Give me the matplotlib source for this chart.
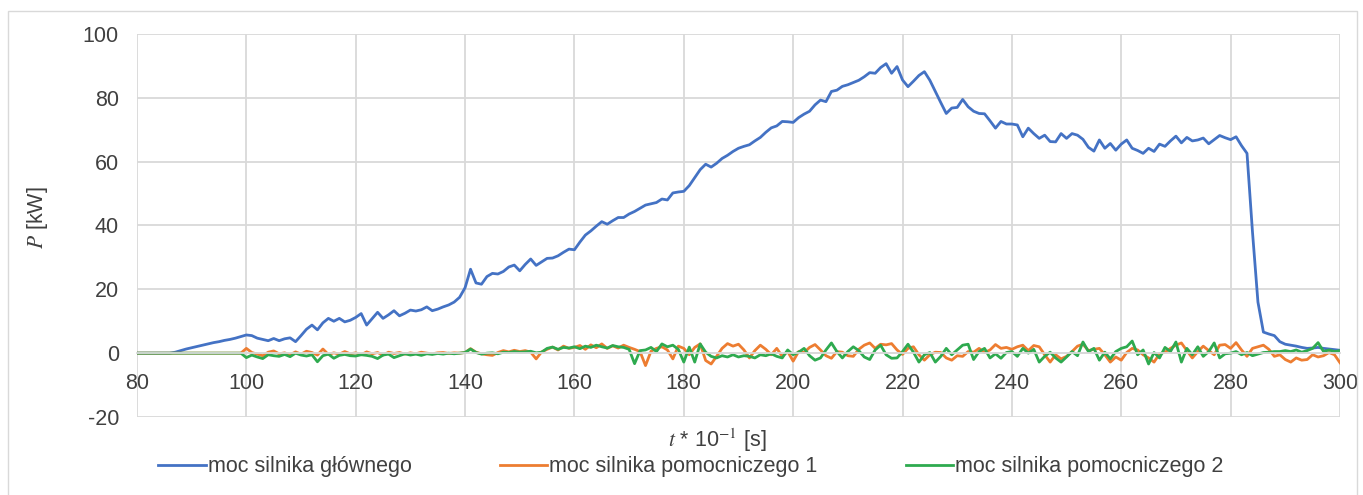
import numpy as np
import matplotlib.pyplot as plt
from matplotlib.patches import Rectangle

# czas (t * 10^-1 s), co 1 jednostke od 80 do 300
t = np.arange(80, 301)

# moc silnika glownego [kW]
p_glowny = [
    0, 0, 0, 0, 0, 0, 0, 0.3, 0.8, 1.3,
    1.7, 2.1, 2.5, 2.9, 3.3, 3.6, 4.0, 4.3, 4.7, 5.2,
    5.7, 5.5, 4.7, 4.3, 3.9, 4.6, 3.9, 4.5, 4.8, 3.6,
    5.5, 7.5, 8.8, 7.3, 9.5, 10.9, 10.0, 10.9, 9.8, 10.3,
    11.2, 12.4, 8.8, 10.8, 12.8, 10.9, 12.0, 13.3, 11.7, 12.5,
    13.5, 13.2, 13.6, 14.5, 13.3, 13.8, 14.5, 15.1, 16.0, 17.5,
    20.5, 26.3, 22.0, 21.6, 24.0, 25.0, 24.8, 25.6, 27.0, 27.6,
    25.8, 27.8, 29.5, 27.5, 28.6, 29.7, 29.8, 30.5, 31.6, 32.6,
    32.4, 34.8, 37.0, 38.3, 39.8, 41.2, 40.4, 41.5, 42.5, 42.5,
    43.6, 44.4, 45.4, 46.4, 46.8, 47.2, 48.3, 48.0, 50.2, 50.5,
    50.7, 52.5, 55.0, 57.5, 59.2, 58.3, 59.5, 61.0, 62.0, 63.2,
    64.2, 64.8, 65.3, 66.5, 67.6, 69.2, 70.6, 71.2, 72.6, 72.5,
    72.3, 73.8, 74.9, 75.8, 77.8, 79.3, 78.8, 82.0, 82.4, 83.6,
    84.1, 84.8, 85.5, 86.6, 87.9, 87.7, 89.5, 90.7, 87.7, 89.8,
    85.6, 83.5, 85.2, 87.0, 88.2, 85.5, 82.0, 78.5, 75.1, 76.8,
    77.0, 79.5, 77.2, 75.8, 75.1, 75.0, 72.8, 70.5, 72.6, 71.8,
    71.8, 71.5, 67.8, 70.5, 68.8, 67.3, 68.3, 66.3, 66.2, 68.8,
    67.3, 68.8, 68.3, 67.0, 64.5, 63.3, 66.8, 64.2, 65.7, 63.6,
    65.5, 66.8, 64.2, 63.5, 62.6, 64.2, 63.2, 65.5, 64.8, 66.5,
    68.0, 65.9, 67.6, 66.5, 66.8, 67.4, 65.6, 66.9, 68.2, 67.5,
    66.9, 67.8, 65.0, 62.6, 38.0, 16.0, 6.6, 6.0, 5.5, 3.6,
    2.8, 2.5, 2.2, 1.8, 1.5, 1.6, 1.8, 1.5, 1.3, 1.1,
    0.9,
]

# moc silnika pomocniczego 1 [kW]
p_pom1 = [
    0, 0, 0, 0, 0, 0, 0, 0, 0, 0,
    0, 0, 0, 0, 0, 0, 0, 0, 0, 0,
    1.5, 0.2, -0.3, -0.8, 0.3, 0.7, -0.2, 0.1, -0.5, 0.4,
    -0.3, 0.6, 0.2, -0.6, 1.3, -0.4, 0.1, -0.3, 0.5, -0.2,
    0.1, -0.5, 0.4, -0.2, 0.2, -0.6, 0.3, -0.1, 0.2, -0.3,
    0.1, -0.2, 0.3, 0.0, -0.2, 0.1, 0.2, -0.1, 0.1, 0.0,
    0.2, 1.4, 0.3, -0.2, -0.5, -0.7, 0.2, 0.8, 0.4, 0.9,
    0.5, 0.8, 0.3, -1.8, 0.4, 1.2, 1.9, 1.0, 2.2, 1.5,
    1.8, 2.4, 1.2, 2.6, 1.7, 2.9, 1.5, 2.3, 1.6, 2.5,
    1.8, 1.2, 0.5, -3.9, 0.6, 1.5, 2.0, 1.0, -1.8, 2.2,
    1.5, -0.5, 1.8, 2.9, -2.3, -3.4, -1.0, 1.5, 3.0, 2.2,
    2.8, 1.0, -1.5, 0.8, 2.5, 1.2, -0.5, 1.5, -1.0, 0.5,
    -2.5, 0.5, 0.2, 1.8, 2.7, 1.0, -0.8, -1.6, 0.5, 0.3,
    -0.8, -1.0, 1.2, 2.5, 3.2, 1.5, 2.8, 2.6, 3.0, 1.0,
    -0.4, 1.5, 2.0, -0.5, -2.2, -0.5, 0.3, 0.2, -1.5, -2.2,
    -0.8, -1.0, 0.5, 0.3, 1.5, 0.2, 1.0, 2.7, 1.5, 1.8,
    1.2, 2.0, 2.5, 0.8, 2.4, 2.0, -0.5, -2.8, -0.5, -1.8,
    -1.0, 0.5, 2.2, 2.8, 0.8, 1.2, 1.5, -0.5, -2.8, -1.2,
    -2.2, 0.2, 1.5, 1.0, -0.5, -1.5, -2.8, -0.2, 0.3, 1.5,
    2.5, 3.2, 0.8, -1.5, 0.5, 2.2, 0.8, -0.5, 2.5, 2.7,
    1.5, 3.3, 1.0, -1.0, 1.5, 2.0, 2.5, 1.2, -1.0, -0.5,
    -2.0, -2.8, -1.5, -2.2, -2.0, -0.5, -1.2, -0.8, 0.2, -0.5,
    -3.0,
]

# moc silnika pomocniczego 2 [kW]
p_pom2 = [
    0, 0, 0, 0, 0, 0, 0, 0, 0, 0,
    0, 0, 0, 0, 0, 0, 0, 0, 0, 0,
    -1.4, -0.6, -1.2, -1.7, -0.5, -0.8, -1.0, -0.4, -1.1, 0.0,
    -0.6, -0.9, -0.5, -2.7, -0.8, -0.3, -1.6, -0.7, -0.4, -0.8,
    -0.9, -0.5, -0.7, -1.0, -1.7, -0.6, -0.3, -1.4, -0.8, -0.2,
    -0.6, -0.3, -0.7, -0.2, -0.4, -0.1, -0.3, 0.0, -0.2, 0.0,
    0.2, 1.3, 0.2, -0.3, 0.0, 0.1, -0.2, 0.3, 0.2, 0.5,
    0.3, 0.4, 0.6, 0.1, 0.3, 1.5, 1.9, 1.2, 1.8, 1.6,
    2.0, 1.4, 2.2, 1.8, 2.5, 2.0, 1.6, 2.4, 2.0, 1.8,
    1.2, -3.3, 0.8, 1.0, 1.8, 0.5, 2.9, 2.0, 2.5, 1.2,
    -2.8, 1.9, -2.8, 2.9, 0.3, -1.0, -1.5, -0.8, -1.2, -0.5,
    -1.2, -0.8, -1.0, -1.5, -0.5, -0.8, -0.2, -1.0, -1.5, 1.0,
    -0.5, 0.3, 1.5, -0.8, -2.2, -1.5, 1.0, 3.2, 0.5, -1.5,
    0.5, 2.0, 0.8, -1.2, -2.0, 1.0, 2.5, -0.5, -1.6, -1.5,
    0.5, 2.8, 0.3, -2.8, -0.5, 0.2, -2.8, -1.0, 1.5, -0.5,
    1.0, 2.5, 2.8, -2.0, 0.5, 1.5, -1.5, -0.2, -1.6, 0.2,
    0.5, -1.0, 1.5, 0.0, 1.2, -2.8, -1.0, 0.3, -1.5, -2.8,
    -1.2, 0.5, -0.8, 3.5, 0.5, 1.5, -2.2, 0.3, -1.8, 0.5,
    1.5, 2.0, 3.8, -0.5, 1.0, -3.4, 0.2, -1.5, 1.8, 0.5,
    3.5, -2.8, 1.5, -0.5, 2.0, -1.0, 0.5, 3.2, -1.5, -0.2,
    0.0, 0.5, -0.5, 0.2, -0.8, -0.3, 0.2, 0.3, 0.5, 0.5,
    0.8, 0.5, 1.0, 0.3, 0.8, 1.5, 3.3, 0.5, 1.0, 0.5,
    0.8,
]

etykiety = ["moc silnika głównego", "moc silnika pomocniczego 1", "moc silnika pomocniczego 2"]
kolory = ["#4472c4", "#ed7d31", "#2eaa4f"]

plt.rcParams['font.family'] = ['Liberation Sans', 'DejaVu Sans']
plt.rcParams['mathtext.fontset'] = 'stix'
plt.rcParams['axes.unicode_minus'] = False

fig = plt.figure(figsize=(13.63, 4.95), dpi=100)
ax = fig.add_axes([0.1005, 0.1576, 0.8826, 0.7737])

szary = "#d9d9d9"
tekst = "#404040"

# serie
for y, kol, et in zip([p_glowny, p_pom1, p_pom2], kolory, etykiety):
    ax.plot(t, y, color=kol, lw=2.0, label=et, solid_joinstyle='round')

ax.set_xlim(80, 300)
ax.set_ylim(-20, 100)
ax.set_xticks(np.arange(80, 301, 20))
ax.set_yticks(np.arange(-20, 101, 20))
ax.grid(True, color=szary, lw=1.3)
ax.set_axisbelow(True)

# os x przecina os y w zerze
for s in ['top', 'right', 'left']:
    ax.spines[s].set_visible(False)
ax.spines['bottom'].set_position(('data', 0))
ax.spines['bottom'].set_color(szary)
ax.spines['bottom'].set_linewidth(1.3)

ax.tick_params(axis='x', length=0, pad=14, labelsize=15.5, labelcolor=tekst)
ax.tick_params(axis='y', length=0, pad=13, labelsize=15.5, labelcolor=tekst)

ax.set_ylabel(r'$P$ [kW]', fontsize=15.5, color=tekst)
ax.yaxis.set_label_coords(-0.072, 0.52)
ax.set_xlabel(r'$t$ * 10$^{-1}$ [s]', fontsize=15.5, color=tekst)
ax.xaxis.set_label_coords(0.482, -0.025)

fig.legend(loc='center', bbox_to_anchor=(0.507, 0.057), ncol=3, frameon=False,
           fontsize=15.5, handlelength=2.2, handletextpad=0.1, columnspacing=4.1,
           labelcolor=tekst)

# ramka wokol wykresu
fig.patches.append(Rectangle((8 / 1363, -0.02), 1349 / 1363, 1.0 - 11 / 495 + 0.02,
                             transform=fig.transFigure, fill=False,
                             edgecolor=szary, lw=1.0))

plt.savefig("out.png", dpi=100)
